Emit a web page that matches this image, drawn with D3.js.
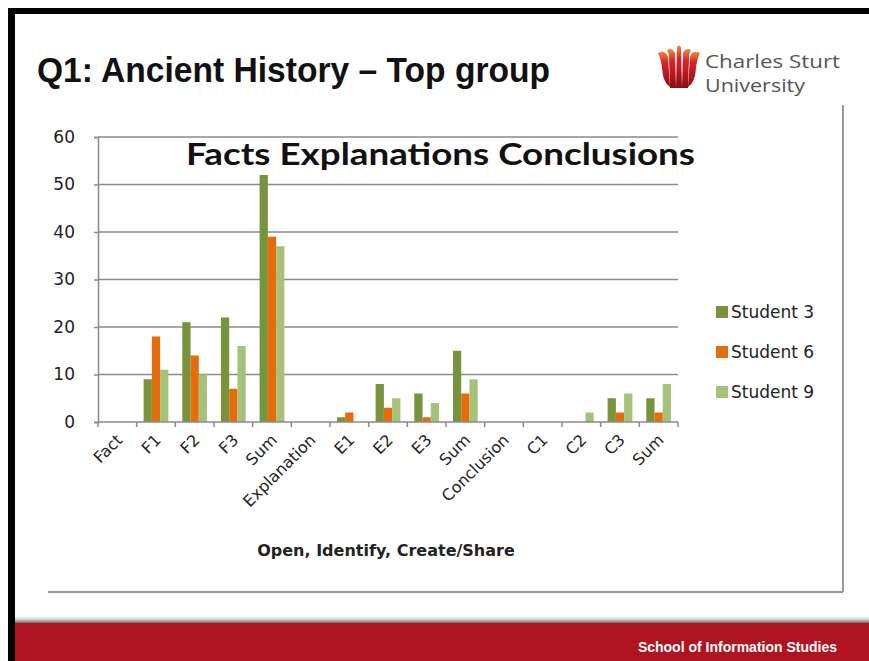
<!DOCTYPE html>
<html>
<head>
<meta charset="utf-8">
<script src="https://cdn.jsdelivr.net/npm/d3@7"></script>
<style>
  body { margin: 0; background: #fff; }
  svg { display: block; }
</style>
</head>
<body>
<svg></svg>
<script>
// categories along the x axis
const categories = ['Fact', 'F1', 'F2', 'F3', 'Sum', 'Explanation', 'E1', 'E2', 'E3', 'Sum ', 'Conclusion', 'C1', 'C2', 'C3', 'Sum  '];
const seriesNames = ['Student 3', 'Student 6', 'Student 9'];
const student3 = [0, 9, 21, 22, 52, 0, 1, 8, 6, 15, 0, 0, 0, 5, 5];
const student6 = [0, 18, 14, 7, 39, 0, 2, 3, 1, 6, 0, 0, 0, 2, 2];
const student9 = [0, 11, 10, 16, 37, 0, 0, 5, 4, 9, 0, 0, 2, 6, 8];
const yTicks = [0, 10, 20, 30, 40, 50, 60];
const colors = ['#77933C', '#E46C0A', '#A5C27A'];

const width = 869;
const height = 661;

const svg = d3.select('svg')
	.attr('width', width)
	.attr('height', height);

const defs = svg.append('defs');
const shadow = defs.append('linearGradient')
	.attr('id', 'footShadow')
	.attr('x1', 0).attr('y1', 0).attr('x2', 0).attr('y2', 1);
shadow.append('stop').attr('offset', 0).attr('stop-color', '#fff');
shadow.append('stop').attr('offset', 0.5).attr('stop-color', '#d0d0d0');
shadow.append('stop').attr('offset', 1).attr('stop-color', '#6a6a6a');

const petal = defs.append('linearGradient')
	.attr('id', 'petal')
	.attr('x1', 0).attr('y1', 0).attr('x2', 0).attr('y2', 1);
petal.append('stop').attr('offset', 0).attr('stop-color', '#f08a3a');
petal.append('stop').attr('offset', 0.3).attr('stop-color', '#d8262a');
petal.append('stop').attr('offset', 1).attr('stop-color', '#8e0c14');

// slide frame
svg.append('rect').attr('x', 8).attr('y', 8).attr('width', 7).attr('height', height - 8).attr('fill', '#000');
svg.append('rect').attr('x', 8).attr('y', 8).attr('width', width - 8).attr('height', 6).attr('fill', '#000');

// header
svg.append('text')
	.attr('x', 37)
	.attr('y', 82)
	.attr('font-family', '"Liberation Sans Narrow", "Liberation Sans", Arial, sans-serif')
	.attr('font-weight', 'bold')
	.attr('font-size', 35)
	.attr('textLength', 513)
	.attr('lengthAdjust', 'spacingAndGlyphs')
	.attr('fill', '#111')
	.text('Q1: Ancient History – Top group');

// logo
const logo = svg.append('g').attr('fill', 'url(#petal)');
[
	'M658,53 Q665,49 668,57 L670,87 Q663,83 662,68 Q661,59 658,53 Z',
	'M667,50 Q672,47 675,53 L676,88 L670,88 L669,58 Q669,53 667,50 Z',
	'M677,47 Q679,44 681,47 L682,88 L676,88 Z',
	'M691,50 Q686,47 683,53 L682,88 L688,88 L689,58 Q689,53 691,50 Z',
	'M700,53 Q693,49 690,57 L688,87 Q695,83 696,68 Q697,59 700,53 Z'
].forEach(d => logo.append('path').attr('d', d));

svg.append('text')
	.attr('x', 705).attr('y', 68)
	.attr('font-family', '"Open Sans", sans-serif')
	.attr('font-size', 18)
	.attr('textLength', 135)
	.attr('lengthAdjust', 'spacingAndGlyphs')
	.attr('fill', '#555')
	.text('Charles Sturt');
svg.append('text')
	.attr('x', 705).attr('y', 92)
	.attr('font-family', '"Open Sans", sans-serif')
	.attr('font-size', 18)
	.attr('textLength', 100)
	.attr('lengthAdjust', 'spacingAndGlyphs')
	.attr('fill', '#555')
	.text('University');

// chart box border (right + bottom)
svg.append('line').attr('x1', 843).attr('y1', 105).attr('x2', 843).attr('y2', 592)
	.attr('stroke', '#9a9a9a').attr('stroke-width', 2);
svg.append('line').attr('x1', 48).attr('y1', 592).attr('x2', 843).attr('y2', 592)
	.attr('stroke', '#9a9a9a').attr('stroke-width', 2);

// footer
svg.append('rect').attr('x', 15).attr('y', 616).attr('width', width - 15).attr('height', 7).attr('fill', 'url(#footShadow)');
svg.append('rect').attr('x', 15).attr('y', 623).attr('width', width - 15).attr('height', height - 623).attr('fill', '#B01420');
svg.append('text')
	.attr('x', 837).attr('y', 652)
	.attr('text-anchor', 'end')
	.attr('font-family', '"Liberation Sans Narrow", "Liberation Sans", Arial, sans-serif')
	.attr('font-weight', 'bold')
	.attr('font-size', 14)
	.attr('fill', '#fff')
	.text('School of Information Studies');

// chart
const plotLeft = 98, plotRight = 678, plotTop = 137, plotBottom = 422;

const x0 = d3.scaleBand()
	.domain(categories)
	.range([plotLeft, plotRight]);

const bw = x0.bandwidth();
const x1 = d3.scaleBand()
	.domain(seriesNames)
	.range([bw * 0.18, bw * 0.82]);

const y = d3.scaleLinear()
	.domain([0, 60])
	.range([plotBottom, plotTop]);

const font = '"DejaVu Sans", sans-serif';

// gridlines
svg.append('g')
	.selectAll('line')
	.data(yTicks.slice(1))
	.enter().append('line')
		.attr('x1', plotLeft)
		.attr('x2', plotRight)
		.attr('y1', d => y(d))
		.attr('y2', d => y(d))
		.attr('stroke', '#8a8a8a')
		.attr('stroke-width', 1.5);

// y axis
const yAxis = svg.append('g')
	.attr('transform', `translate(${plotLeft},0)`)
	.call(d3.axisLeft(y).tickValues(yTicks).tickSize(4).tickPadding(19));
yAxis.select('.domain').attr('stroke', '#8a8a8a').attr('stroke-width', 1.5);
yAxis.selectAll('.tick line').attr('stroke', '#8a8a8a').attr('stroke-width', 1.5);
yAxis.selectAll('.tick text')
	.attr('font-family', font)
	.attr('font-size', 17)
	.attr('fill', '#222');

// bars
const seriesData = [student3, student6, student9];
const groups = svg.append('g')
	.selectAll('g')
	.data(categories)
	.enter().append('g')
		.attr('transform', d => `translate(${x0(d)},0)`);

groups.selectAll('rect')
	.data((d, i) => seriesNames.map((s, j) => ({ s: s, v: seriesData[j][i], c: colors[j] })))
	.enter().append('rect')
		.attr('x', d => x1(d.s))
		.attr('width', x1.bandwidth())
		.attr('y', d => y(d.v))
		.attr('height', d => y(0) - y(d.v))
		.attr('fill', d => d.c);

// x axis
const xAxisG = svg.append('g')
	.attr('transform', `translate(0,${plotBottom})`);
xAxisG.append('line')
	.attr('x1', plotLeft).attr('x2', plotRight)
	.attr('stroke', '#8a8a8a').attr('stroke-width', 1.5);
xAxisG.selectAll('.tk')
	.data(d3.range(categories.length + 1))
	.enter().append('line')
		.attr('class', 'tk')
		.attr('x1', i => plotLeft + i * bw)
		.attr('x2', i => plotLeft + i * bw)
		.attr('y1', 0).attr('y2', 5)
		.attr('stroke', '#8a8a8a').attr('stroke-width', 1.5);
xAxisG.selectAll('text')
	.data(categories)
	.enter().append('text')
		.attr('transform', d => `translate(${x0(d) + bw / 2 + 6},${19}) rotate(-45)`)
		.attr('text-anchor', 'end')
		.attr('font-family', font)
		.attr('font-size', 16)
		.attr('fill', '#222')
		.text(d => d.trim());

// axis title
svg.append('text')
	.attr('x', 386).attr('y', 556)
	.attr('text-anchor', 'middle')
	.attr('font-family', font)
	.attr('font-weight', 'bold')
	.attr('font-size', 16)
	.attr('fill', '#222')
	.text('Open, Identify, Create/Share');

// chart title
svg.append('text')
	.attr('x', 186).attr('y', 165)
	.attr('font-family', 'Lato, "Open Sans", sans-serif')
	.attr('font-weight', 'bold')
	.attr('font-size', 31)
	.attr('textLength', 509)
	.attr('lengthAdjust', 'spacingAndGlyphs')
	.attr('fill', '#111')
	.text('Facts Explanations Conclusions');

// legend
const legend = svg.append('g')
	.selectAll('g')
	.data(seriesNames)
	.enter().append('g')
		.attr('transform', (d, i) => `translate(716,${306 + i * 40})`);
legend.append('rect')
	.attr('width', 12).attr('height', 12)
	.attr('fill', (d, i) => colors[i]);
legend.append('text')
	.attr('x', 15).attr('y', 12)
	.attr('font-family', font)
	.attr('font-size', 17)
	.attr('fill', '#222')
	.text(d => d);
</script>
</body>
</html>
